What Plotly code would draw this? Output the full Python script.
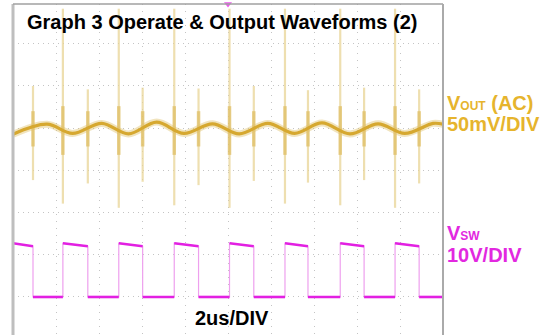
import plotly.graph_objects as go

# ---------------- data ----------------
# time axis: 2 us / division, 10 divisions
x_range_us = [0, 20]
# switching-node edges (us)
rise_us = [2.32, 4.92, 7.50, 10.07, 12.65, 15.22, 17.77]
fall_us = [0.93, 3.48, 6.03, 8.63, 11.20, 13.72, 16.33, 18.89]
vsw_high_start_v = 12.8
vsw_high_end_v = 12.1
vsw_low_v = 0.0

# output ripple (AC, mV) – troughs / peaks
ripple_t_us = [0.0, 1.58, 2.77, 4.13, 5.37, 6.68, 7.95, 9.28, 10.52, 11.85,
               13.10, 14.37, 15.67, 16.98, 18.22, 19.54, 20.0]
ripple_mv = [-7.5, 4.5, -6.5, 5.5, -7.0, 7.0, -6.5, 5.0, -7.0, 5.5,
             -6.5, 6.0, -7.0, 5.0, -6.5, 5.5, 4.5]

# switching spikes on the output (mV)
rise_spike_top_mv = [142, 142, 142, 142, 142, 142, 142]
rise_spike_bot_mv = [-90, -95, -92, -95, -90, -92, -95]
fall_spike_top_mv = [50, 46, 48, 47, 50, 45, 48, 46]
fall_spike_bot_mv = [-62, -66, -64, -68, -63, -65, -62, -66]
rise_core = [-32, 26]
fall_core = [-22, 20]

title_text = "Graph 3 Operate &amp; Output Waveforms (2)"
time_div_text = "2us/DIV"

GOLD = "rgb(214,168,48)"
GOLD_TEXT = "rgb(230,180,45)"
PALE_GOLD = "rgba(232,212,150,0.75)"
MAG = "rgb(226,32,226)"
MAG_TEXT = "rgb(226,40,224)"
PALE_MAG = "rgb(238,160,238)"

# ---------------- build traces ----------------
events = sorted([(t, "r") for t in rise_us] + [(t, "f") for t in fall_us])

sq_x, sq_y = [x_range_us[0]], [vsw_high_start_v]
lvl_x, lvl_y = [x_range_us[0]], [vsw_high_start_v]
for t, kind in events:
    if kind == "f":
        sq_x += [t, t]; sq_y += [vsw_high_end_v, vsw_low_v]
        lvl_x += [t, None, t]; lvl_y += [vsw_high_end_v, None, vsw_low_v]
    else:
        sq_x += [t, t]; sq_y += [vsw_low_v, vsw_high_start_v]
        lvl_x += [t, None, t]; lvl_y += [vsw_low_v, None, vsw_high_start_v]
end_level = vsw_low_v if events[-1][1] == "f" else vsw_high_end_v
sq_x.append(x_range_us[1]); sq_y.append(end_level)
lvl_x.append(x_range_us[1]); lvl_y.append(end_level)

spk_x, spk_y, core_x, core_y = [], [], [], []
for t, top, bot in zip(rise_us, rise_spike_top_mv, rise_spike_bot_mv):
    spk_x += [t, t, None]; spk_y += [bot, top, None]
    core_x += [t, t, None]; core_y += [rise_core[0], rise_core[1], None]
for t, top, bot in zip(fall_us, fall_spike_top_mv, fall_spike_bot_mv):
    spk_x += [t, t, None]; spk_y += [bot, top, None]
    core_x += [t, t, None]; core_y += [fall_core[0], fall_core[1], None]

fig = go.Figure()
fig.add_trace(go.Scatter(x=ripple_t_us, y=ripple_mv, mode="lines",
                         line=dict(color="rgba(225,195,110,0.45)", width=7, shape="spline"),
                         hoverinfo="skip"))
fig.add_trace(go.Scatter(x=spk_x, y=spk_y, mode="lines",
                         line=dict(color=PALE_GOLD, width=2.2), hoverinfo="skip"))
fig.add_trace(go.Scatter(x=core_x, y=core_y, mode="lines",
                         line=dict(color="rgba(222,188,95,0.7)", width=3.5), hoverinfo="skip"))
fig.add_trace(go.Scatter(x=ripple_t_us, y=ripple_mv, mode="lines",
                         line=dict(color=GOLD, width=3.2, shape="spline"), hoverinfo="skip"))
fig.add_trace(go.Scatter(x=sq_x, y=sq_y, mode="lines", yaxis="y2",
                         line=dict(color=PALE_MAG, width=1.2), hoverinfo="skip"))
fig.add_trace(go.Scatter(x=lvl_x, y=lvl_y, mode="lines", yaxis="y2",
                         line=dict(color=MAG, width=2.6), hoverinfo="skip"))
fig.add_trace(go.Scatter(x=[10], y=[69.76], mode="markers", yaxis="y2", cliponaxis=False,
                         marker=dict(symbol="triangle-down", size=7, color="rgb(235,90,235)"),
                         hoverinfo="skip"))

grid = "rgb(196,196,196)"
fig.update_layout(
    width=546, height=335,
    margin=dict(l=13, r=103, t=4, b=0),
    paper_bgcolor="white", plot_bgcolor="white",
    showlegend=False,
    xaxis=dict(range=x_range_us, dtick=2, tick0=0, showgrid=True, gridcolor=grid,
               gridwidth=1, griddash="1px,6px", zeroline=False,
               showticklabels=False, ticks="", showline=False, fixedrange=True),
    yaxis=dict(range=[-246.4, 147.6], dtick=50, tick0=0, showgrid=True, gridcolor=grid,
               gridwidth=1, griddash="1px,4px", zeroline=False,
               showticklabels=False, ticks="", showline=False, fixedrange=True),
    yaxis2=dict(range=[-9.05, 69.76], overlaying="y", visible=False, fixedrange=True),
    shapes=[
        dict(type="line", xref="paper", yref="paper", x0=0, x1=0, y0=0, y1=1,
             line=dict(color="rgb(190,190,190)", width=3)),
        dict(type="line", xref="paper", yref="paper", x0=0, x1=1, y0=1, y1=1,
             line=dict(color="rgb(160,160,160)", width=1.5)),
        dict(type="line", xref="paper", yref="paper", x0=1, x1=1, y0=0, y1=1,
             line=dict(color="rgb(170,170,170)", width=2)),
    ],
)

font_family = "Liberation Sans, Arial, sans-serif"
ann = [
    dict(text="<b>" + title_text + "</b>", x=0.486, y=0.9456,
         font=dict(size=20, color="black"), xanchor="center"),
    dict(text="<b>" + time_div_text + "</b>", x=0.509, y=0.05,
         font=dict(size=20, color="black"), xanchor="center"),
    dict(text="<b>V<span style='font-size:12px'>OUT</span> (AC)</b>", x=1.004, y=0.701,
         font=dict(size=20, color=GOLD_TEXT), xanchor="left"),
    dict(text="<b>50mV/DIV</b>", x=1.004, y=0.637,
         font=dict(size=20, color=GOLD_TEXT), xanchor="left"),
    dict(text="<b>V<span style='font-size:12px'>SW</span></b>", x=1.004, y=0.308,
         font=dict(size=20, color=MAG_TEXT), xanchor="left"),
    dict(text="<b>10V/DIV</b>", x=1.004, y=0.2417,
         font=dict(size=20, color=MAG_TEXT), xanchor="left"),
]
for a in ann:
    a.update(xref="paper", yref="paper", showarrow=False, yanchor="middle")
    a["font"]["family"] = font_family
fig.update_layout(annotations=ann)

fig.write_html("out.html", config={"displayModeBar": False},
               post_script="document.body.style.margin='0';document.body.style.overflow='hidden';")
